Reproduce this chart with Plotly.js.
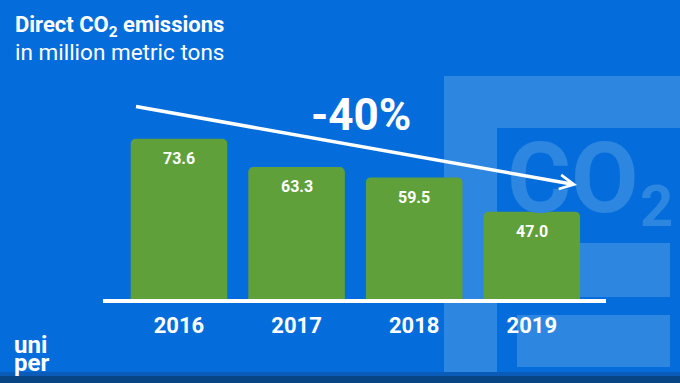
<!DOCTYPE html>
<html>
<head>
<meta charset="utf-8">
<script src="https://cdn.plot.ly/plotly-3.0.1.min.js"></script>
<style>
  html, body { margin: 0; padding: 0; background: #056ddb; }
  #chart { width: 680px; height: 383px; }
</style>
</head>
<body>
<div id="chart"></div>
<script>
// ---- data ----
const years = ['2016', '2017', '2018', '2019'];
const emissions = [73.6, 63.3, 59.5, 47.0];
const valueLabels = ['73.6', '63.3', '59.5', '47.0'];
const reductionLabel = '-40%';
const titleLine1 = '<b>Direct CO<sub>2</sub> emissions</b>';
const titleLine2 = 'in million metric tons';

// ---- geometry of the plot area (pixels) ----
const W = 680, H = 383;
const PL = 103, PR = 606, PT = 60, PB = 299;
const px = x => (x - PL) / (PR - PL);      // pixel x -> paper x
const py = y => (PB - y) / (PB - PT);      // pixel y -> paper y

const BG = '#056ddb';
const LIGHT = '#2d86e0';
const GREEN = '#5fa03a';
const FONT = 'Roboto, "Open Sans", sans-serif';

function rect(x0, y0, x1, y1, color) {
  return {type: 'rect', xref: 'paper', yref: 'paper', layer: 'below',
          x0: px(x0), x1: px(x1), y0: py(y1), y1: py(y0),
          fillcolor: color, line: {width: 0}};
}

const shapes = [
  rect(444, 76, 680, 128, LIGHT),
  rect(444, 128, 497, 372, LIGHT),
  rect(497, 243, 670, 297, LIGHT),
  rect(517, 315, 670, 367, LIGHT),
  rect(0, 372, 680, 376, '#0a5cb8'),
  rect(0, 376, 680, 383, '#084585')
];

const annotations = [
  // decorative big CO2 (background)
  {xref: 'paper', yref: 'paper', x: px(573), y: py(178), xanchor: 'center', yanchor: 'middle',
   text: '<b>CO</b>', showarrow: false,
   font: {family: '"Liberation Sans Narrow", ' + FONT, size: 98, color: LIGHT}},
  {xref: 'paper', yref: 'paper', x: px(656), y: py(206), xanchor: 'center', yanchor: 'middle',
   text: '<b>2</b>', showarrow: false,
   font: {family: FONT, size: 58, color: LIGHT}},
  // title
  {xref: 'paper', yref: 'paper', x: px(13), y: py(27), xanchor: 'left', yanchor: 'middle',
   text: titleLine1, showarrow: false, font: {family: FONT, size: 22, color: '#ffffff'}},
  {xref: 'paper', yref: 'paper', x: px(13), y: py(52), xanchor: 'left', yanchor: 'middle',
   text: titleLine2, showarrow: false, font: {family: FONT, size: 22.5, color: '#ffffff'}},
  // trend arrow
  {xref: 'paper', yref: 'paper', x: px(577), y: py(185), ax: -444, ay: -79,
   text: ' ', showarrow: true, arrowhead: 5, arrowsize: 0.8, arrowwidth: 3.5,
   arrowcolor: '#ffffff', standoff: 0, startstandoff: 0},
  // -40%
  {xref: 'paper', yref: 'paper', x: px(361), y: py(115), xanchor: 'center', yanchor: 'middle',
   text: '<b>' + reductionLabel + '</b>', showarrow: false,
   font: {family: FONT, size: 44, color: '#ffffff'}},
  // logo
  {xref: 'paper', yref: 'paper', x: px(12), y: py(345), xanchor: 'left', yanchor: 'middle',
   text: '<b>uni</b>', showarrow: false, font: {family: FONT, size: 24, color: '#ffffff'}},
  {xref: 'paper', yref: 'paper', x: px(12), y: py(363), xanchor: 'left', yanchor: 'middle',
   text: '<b>per</b>', showarrow: false, font: {family: FONT, size: 24, color: '#ffffff'}}
];

// value labels inside bars, near the top (category index positions)
years.forEach((yr, i) => {
  annotations.push({
    xref: 'x', yref: 'y', x: i, y: emissions[i], yshift: -20,
    xanchor: 'center', yanchor: 'middle', showarrow: false,
    text: '<b>' + valueLabels[i] + '</b>',
    font: {family: FONT, size: 16, color: '#ffffff'}
  });
});

const trace = {
  type: 'bar',
  x: years,
  y: emissions,
  marker: {color: GREEN, cornerradius: 5, line: {width: 0}},
  hoverinfo: 'skip'
};

const layout = {
  width: W, height: H,
  margin: {l: PL, r: W - PR, t: PT, b: H - PB, pad: 0},
  paper_bgcolor: BG,
  plot_bgcolor: 'rgba(0,0,0,0)',
  showlegend: false,
  bargap: 0.179,
  xaxis: {
    type: 'category',
    range: [-0.646, 3.631],
    showgrid: false, zeroline: false,
    showline: true, linecolor: '#ffffff', linewidth: 3.5,
    ticks: '', ticklabelstandoff: 4,
    tickfont: {family: FONT, size: 22, color: '#ffffff', weight: 'bold'},
    fixedrange: true
  },
  yaxis: {
    range: [15.1, 102.36],
    visible: false, showgrid: false, zeroline: false, fixedrange: true
  },
  shapes: shapes,
  annotations: annotations
};

Plotly.newPlot('chart', [trace], layout, {displayModeBar: false, staticPlot: true});
</script>
</body>
</html>
